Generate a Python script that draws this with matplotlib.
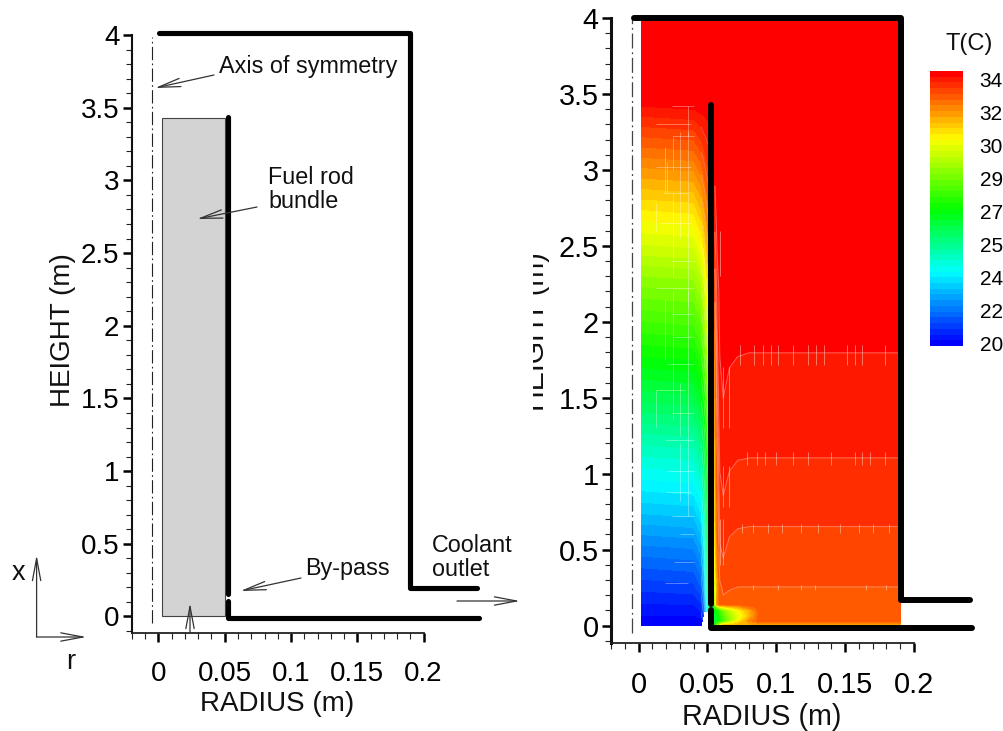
import numpy as np
import matplotlib
matplotlib.use("Agg")
import matplotlib.pyplot as plt
from matplotlib.colors import LinearSegmentedColormap, BoundaryNorm
from matplotlib.patches import Rectangle, FancyArrowPatch
from matplotlib.transforms import Bbox, ScaledTranslation

W, H = 1004, 731
plt.rcParams['font.family'] = ['Liberation Sans', 'DejaVu Sans']

# ---------- data ----------
x_ticks = [0, 0.05, 0.1, 0.15, 0.2]
x_labels = ['0', '0.05', '0.1', '0.15', '0.2']
y_ticks = [0, 0.5, 1, 1.5, 2, 2.5, 3, 3.5, 4]
y_labels = ['0', '0.5', '1', '1.5', '2', '2.5', '3', '3.5', '4']

cb_ticks = [20, 21.75, 23.5, 25.25, 27, 28.75, 30.5, 32.25, 34]
cb_labels = ['20', '22', '24', '25', '27', '29', '30', '32', '34']

bundle_r = [0.0026, 0.05]
bundle_y = [0.0, 3.43]

# walls, left sketch
L_outer_r = [0.0005, 0.19, 0.19, 0.2405]
L_outer_y = [4.013, 4.013, 0.197, 0.197]
L_inner_r = [0.0524, 0.0524]
L_inner_y = [0.155, 3.436]
L_lower_r = [0.0524, 0.0524, 0.2417]
L_lower_y = [0.107, -0.01, -0.01]
L_axis_r = [-0.005, -0.005]
L_axis_y = [-0.045, 3.985]

# walls, right field
R_outer_r = [-0.0035, 0.1905, 0.1905, 0.2407]
R_outer_y = [4.0, 4.0, 0.168, 0.168]
R_inner_r = [0.0529, 0.0529]
R_inner_y = [0.14, 3.43]
R_lower_r = [0.0529, 0.0529, 0.242]
R_lower_y = [0.10, -0.0165, -0.0165]
R_axis_r = [-0.005, -0.005]
R_axis_y = [-0.05, 4.0]

# temperature, inside the bundle (rows = height, columns = radius)
core_r = [0.002, 0.040, 0.0455, 0.0475, 0.0495, 0.0512, 0.0555]
core_y = [0.0, 0.09, 0.25, 0.5, 0.75, 1.0, 1.25, 1.5, 1.75, 2.0, 2.25, 2.5, 2.75, 3.0, 3.2, 3.4, 3.45, 3.98]
core_T = np.array([
    [20.0, 20.0, 20.0, np.nan, np.nan, np.nan, np.nan],
    [20.4, 20.4, 20.6, 21.5, 23.5, 25.5, 26.5],
    [21.0, 21.1, 21.5, 22.6, 24.6, 26.6, 27.0],
    [22.0, 22.1, 22.6, 23.6, 25.4, 27.0, 27.5],
    [23.1, 23.2, 23.7, 24.6, 26.0, 27.4, 28.0],
    [24.1, 24.2, 24.7, 25.5, 26.7, 27.9, 28.5],
    [25.1, 25.2, 25.7, 26.4, 27.5, 28.6, 29.0],
    [26.2, 26.3, 26.8, 27.4, 28.4, 29.4, 30.0],
    [27.2, 27.3, 27.8, 28.4, 29.3, 30.2, 30.8],
    [28.2, 28.3, 28.8, 29.4, 30.2, 31.0, 31.5],
    [29.2, 29.3, 29.8, 30.3, 31.0, 31.7, 32.2],
    [30.3, 30.4, 30.9, 31.3, 31.9, 32.4, 33.0],
    [31.3, 31.4, 31.9, 32.3, 32.7, 33.1, 33.6],
    [32.4, 32.5, 32.9, 33.2, 33.5, 33.7, 34.0],
    [33.3, 33.4, 33.7, 33.9, 34.0, 34.1, 34.3],
    [34.2, 34.3, 34.4, 34.4, 34.45, 34.45, 34.45],
    [34.45, 34.45, 34.45, 34.45, 34.45, 34.45, 34.45],
    [34.45, 34.45, 34.45, 34.45, 34.45, 34.45, 34.45],
])

# temperature, outside the bundle
out_r = [0.0555, 0.057, 0.059, 0.0615, 0.066, 0.072, 0.08, 0.088, 0.19]
out_y = [0.0, 0.03, 0.06, 0.1, 0.12, 0.14, 0.25, 0.4, 0.64, 1.1, 1.78, 2.2, 2.6, 3.0, 3.98]
out_T = np.array([
    [27.0, 29.0, 30.5, 32.0, 32.0, 32.0, 32.0, 32.0, 32.0],
    [26.5, 27.0, 27.5, 28.0, 29.5, 31.0, 32.5, 33.3, 33.3],
    [26.5, 27.0, 27.5, 28.5, 29.5, 30.5, 31.8, 33.3, 33.3],
    [27.0, 27.5, 28.0, 29.0, 30.0, 31.0, 32.0, 33.3, 33.3],
    [28.0, 29.0, 30.5, 31.0, 31.5, 32.0, 32.8, 33.3, 33.3],
    [30.0, 32.5, 33.3, 33.3, 33.3, 33.3, 33.3, 33.3, 33.3],
    [30.5, 32.0, 33.3, 33.45, 33.4, 33.38, 33.38, 33.38, 33.38],
    [31.0, 32.5, 33.6, 33.65, 33.55, 33.5, 33.5, 33.5, 33.5],
    [31.5, 33.0, 33.75, 33.85, 33.73, 33.69, 33.68, 33.68, 33.68],
    [32.0, 33.3, 34.05, 34.15, 34.05, 34.0, 33.99, 33.99, 33.99],
    [32.8, 33.9, 34.3, 34.4, 34.33, 34.3, 34.29, 34.29, 34.29],
    [33.5, 34.1, 34.4, 34.45, 34.45, 34.45, 34.45, 34.45, 34.45],
    [34.0, 34.4, 34.45, 34.45, 34.45, 34.45, 34.45, 34.45, 34.45],
    [34.4, 34.45, 34.45, 34.45, 34.45, 34.45, 34.45, 34.45, 34.45],
    [34.45, 34.45, 34.45, 34.45, 34.45, 34.45, 34.45, 34.45, 34.45],
])

# pale plotting artefacts seen over the field
step_y = [1.78, 1.1, 0.64, 0.25]
step_half = [0.065, 0.04, 0.03, 0.015]
step_r = [
    [0.0735, 0.084, 0.09, 0.096, 0.101, 0.112, 0.123, 0.129, 0.135, 0.151, 0.157, 0.162, 0.179],
    [0.079, 0.086, 0.092, 0.100, 0.112, 0.123, 0.140, 0.157, 0.162, 0.168, 0.179],
    [0.075, 0.083, 0.094, 0.104, 0.118, 0.130, 0.146, 0.160, 0.170, 0.182],
    [0.083, 0.101, 0.118, 0.128, 0.165, 0.180],
]
near_r = [0.0615, 0.066, 0.0615, 0.066, 0.059, 0.0615, 0.059]
near_y0 = [1.30, 1.30, 0.78, 0.78, 0.40, 0.40, 2.30]
near_y1 = [1.70, 1.70, 1.05, 1.05, 0.70, 0.70, 2.60]
grid_r = [0.013, 0.019, 0.025, 0.030, 0.036, 0.036, 0.025, 0.019, 0.030, 0.036, 0.030, 0.021, 0.013, 0.025, 0.036]
grid_y0 = [1.30, 1.75, 1.35, 1.25, 1.10, 2.10, 2.30, 2.85, 2.55, 0.72, 0.82, 2.85, 2.60, 3.00, 3.22]
grid_y1 = [1.55, 2.15, 2.20, 1.60, 2.20, 3.25, 2.85, 3.15, 3.25, 1.10, 1.20, 3.05, 2.78, 3.22, 3.42]
hgrid_y = [0.28, 0.42, 0.60, 0.72, 0.88, 1.02, 1.22, 1.40, 1.55, 1.72, 1.90, 2.05, 2.22, 2.40, 2.65, 2.85, 3.02, 3.22, 3.30, 3.42]
hgrid_r0 = [0.019, 0.026, 0.030, 0.024, 0.020, 0.021, 0.019, 0.024, 0.013, 0.021, 0.026, 0.024, 0.013, 0.024, 0.016, 0.018, 0.013, 0.025, 0.013, 0.024]
hgrid_r1 = [0.036, 0.040, 0.040, 0.040, 0.038, 0.040, 0.040, 0.040, 0.034, 0.040, 0.040, 0.040, 0.040, 0.040, 0.038, 0.036, 0.038, 0.040, 0.038, 0.040]

# ---------- helpers ----------
def fx(x):
    return x / W

def fy(y):
    return 1 - y / H

def place_axes(x0, x1, y_top, y_bot):
    return fig.add_axes([fx(x0), fy(y_bot), (x1 - x0) / W, (y_bot - y_top) / H])

def style_axes(ax, tick_size, spine_w):
    ax.set_xlim(-0.02, 0.2)
    ax.set_xticks(x_ticks)
    ax.set_xticklabels(x_labels)
    ax.set_yticks(y_ticks)
    ax.set_yticklabels(y_labels)
    ax.set_xticks(np.arange(-0.02, 0.2001, 0.01), minor=True)
    ax.set_yticks(np.arange(-0.1, 4.0001, 0.1), minor=True)
    ax.spines['top'].set_visible(False)
    ax.spines['right'].set_visible(False)
    ax.spines['left'].set_linewidth(spine_w)
    ax.spines['bottom'].set_linewidth(1.3)
    ax.spines['left'].set_color('#111111')
    ax.spines['bottom'].set_color('#222222')
    ax.tick_params(axis='x', which='major', length=6.5, width=1.8, pad=14, labelsize=tick_size, color='black')
    ax.tick_params(axis='y', which='major', length=6.5, width=1.8, pad=2.5, labelsize=tick_size, color='black')
    ax.tick_params(axis='both', which='minor', length=4.5, width=0.8, color='#222222')
    ax.patch.set_alpha(0)

def arrow(x0, y0, x1, y1):
    fig.add_artist(FancyArrowPatch(
        (fx(x0), fy(y0)), (fx(x1), fy(y1)), transform=fig.transFigure,
        arrowstyle='->,head_length=1.6,head_width=0.3', mutation_scale=10,
        shrinkA=0, shrinkB=0, lw=0.9, color='#333333', zorder=6))

def label(x, y, s, size, **kw):
    return fig.text(fx(x), fy(y), s, fontsize=size, ha=kw.pop('ha', 'left'), va='baseline', color='#111111', **kw)

def wall(ax, r, y, lw):
    ax.plot(r, y, color='black', lw=lw, solid_capstyle='round', solid_joinstyle='round', clip_on=False, zorder=5)

fig = plt.figure(figsize=(W / 100, H / 100), dpi=100, facecolor='white')

# ---------- left sketch ----------
ax1 = place_axes(132, 423.5, 35, 633)
style_axes(ax1, 20, 1.5)
ax1.set_ylim(-0.1135, 4.0)
ax1.add_patch(Rectangle((bundle_r[0], bundle_y[0]), bundle_r[1] - bundle_r[0], bundle_y[1] - bundle_y[0],
                        facecolor='#d3d3d3', edgecolor='#444444', lw=0.8, zorder=2))
ax1.plot(L_axis_r, L_axis_y, color='#222222', lw=0.8, ls=(0, (12, 3, 1.5, 3)), clip_on=False)
wall(ax1, L_outer_r, L_outer_y, 3.7)
wall(ax1, L_inner_r, L_inner_y, 3.7)
wall(ax1, L_lower_r, L_lower_y, 3.7)

label(219, 72.7, 'Axis of symmetry', 16.8)
label(268, 184, 'Fuel rod', 16.8)
label(268, 208, 'bundle', 16.8)
label(305, 575, 'By-pass', 16.8)
label(432, 552.5, 'Coolant', 16.8)
label(432, 576, 'outlet', 16.8)
label(12, 580, 'x', 19.5)
label(66, 669, 'r', 19.5)
arrow(214, 75, 155, 88)
arrow(257, 207, 197, 219)
arrow(301, 578, 240.5, 591)
arrow(457, 601, 520, 601)
arrow(190, 633, 190, 603)
arrow(36.6, 637, 36.6, 555)
arrow(36.6, 637, 86.4, 637)

fig.text(fx(70), fy(330), 'HEIGHT (m)', fontsize=20, rotation=90, rotation_mode='anchor',
         ha='center', va='baseline', color='#111111')
label(277, 711, 'RADIUS (m)', 20, ha='center')

# ---------- right field ----------
ax2 = place_axes(611, 914, 18, 643)
style_axes(ax2, 20.8, 2.2)
ax2.set_ylim(-0.1152, 4.0)

levels = np.linspace(20, 34.6, 49)
cmap = LinearSegmentedColormap.from_list(
    'tecplot', [(0, (0, 0, 1)), (0.263, (0, 1, 1)), (0.494, (0, 1, 0)), (0.755, (1, 1, 0)), (1, (1, 0, 0))], N=256)
norm = BoundaryNorm(levels, cmap.N)

ax2.contourf(core_r, core_y, np.ma.masked_invalid(core_T), levels=levels, cmap=cmap, norm=norm, zorder=1, antialiased=False)
ax2.contourf(out_r, out_y, out_T, levels=levels, cmap=cmap, norm=norm, zorder=1, antialiased=False)

pale = '#ffd9c8'
ax2.contour(out_r, out_y, out_T, levels=[levels[44], levels[45], levels[46], levels[47]],
            colors=pale, linewidths=0.7, alpha=0.45, zorder=2)
ax2.contour(core_r[2:6], core_y, np.ma.masked_invalid(core_T)[:, 2:6], levels=levels[::2],
            colors='white', linewidths=0.5, alpha=0.3, zorder=2)
for yy, hh, rr in zip(step_y, step_half, step_r):
    ax2.vlines(rr, yy - hh, yy + hh, color=pale, lw=0.7, alpha=0.5, zorder=2)
ax2.vlines(near_r, near_y0, near_y1, color=pale, lw=0.7, alpha=0.5, zorder=2)
ax2.vlines(grid_r, grid_y0, grid_y1, color='white', lw=0.6, alpha=0.4, zorder=2)
ax2.hlines(hgrid_y, hgrid_r0, hgrid_r1, color='white', lw=0.6, alpha=0.4, zorder=2)

ax2.plot(R_axis_r, R_axis_y, color='#444444', lw=0.9, ls=(0, (12, 3, 1.5, 3)), clip_on=False)
wall(ax2, R_outer_r, R_outer_y, 4.3)
wall(ax2, R_inner_r, R_inner_y, 4.3)
wall(ax2, R_lower_r, R_lower_y, 4.3)

t = fig.text(fx(544), fy(332), 'HEIGHT (m)', fontsize=20.7, rotation=90, rotation_mode='anchor',
             ha='center', va='baseline', color='#111111')
t.set_clip_box(Bbox([[533, 0], [600, H]]))
t.set_clip_on(True)
label(762, 725, 'RADIUS (m)', 20.7, ha='center')

# ---------- colour bar ----------
cax = place_axes(930, 963, 71, 346)
cax.pcolormesh([0, 1], levels, 0.5 * (levels[:-1] + levels[1:]).reshape(-1, 1), cmap=cmap, norm=norm)
cax.set_xticks([])
cax.set_yticks(cb_ticks)
cax.set_yticklabels(cb_labels, fontsize=15)
cax.yaxis.tick_right()
cax.tick_params(axis='y', length=0, pad=12)
shift = ScaledTranslation(0, 2.5 / 100, fig.dpi_scale_trans)
for lab in cax.get_yticklabels():
    lab.set_transform(lab.get_transform() + shift)
for s in cax.spines.values():
    s.set_visible(False)
label(945, 50, 'T(C)', 17)

fig.savefig('out.png', dpi=100, facecolor='white')
